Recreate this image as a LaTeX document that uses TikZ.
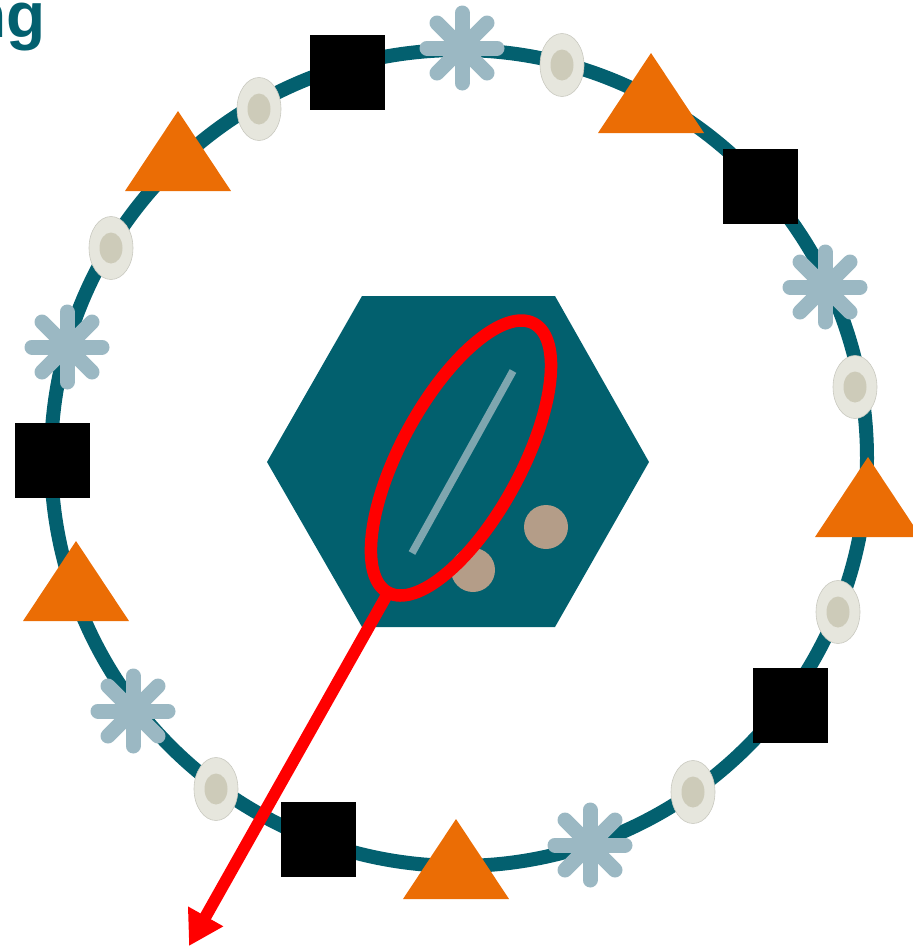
\documentclass[tikz,border=0pt]{standalone}
\usepackage{fontspec}
\setmainfont{Liberation Sans}
\usetikzlibrary{arrows.meta}
\definecolor{ringteal}{HTML}{03606F}
\definecolor{hexteal}{HTML}{02606E}
\definecolor{triorange}{HTML}{EB6D05}
\definecolor{astblue}{HTML}{9BB8C3}
\definecolor{ovalout}{HTML}{E6E6DD}
\definecolor{ovalin}{HTML}{CDCBB9}
\definecolor{ovaledge}{HTML}{C9C9C0}
\definecolor{dotbrown}{HTML}{B49D88}
\definecolor{rodblue}{HTML}{7EA6AF}
\definecolor{markred}{HTML}{FF0000}
\tikzset{
  ringline/.style={draw=ringteal, line width=14pt},
  sqbox/.style={fill=black},
  trishape/.style={fill=triorange},
  astarm/.style={draw=astblue, line width=15pt, line cap=round},
  ovalshape/.style={fill=ovalout, draw=ovaledge, line width=0.6pt},
  ovalcore/.style={fill=ovalin},
  hexshape/.style={fill=hexteal},
  dotshape/.style={fill=dotbrown},
  rodline/.style={draw=rodblue, line width=7.5pt},
  redring/.style={draw=markred, line width=12.5pt},
  redarrow/.style={draw=markred, line width=12pt, -{Triangle[length=34pt,width=38pt]}},
  titletext/.style={font=\bfseries\fontsize{64}{64}\selectfont, text=ringteal, inner sep=0pt}
}
\begin{document}
\begin{tikzpicture}[x=1pt,y=-1pt]
\useasboundingbox (0,0) rectangle (913,948);
\clip (0,0) rectangle (913,948);

% title fragment
\node[titletext, anchor=base east] (title) at (45.5,37) {ng};

% ring
\draw[ringline] (459,458) circle [radius=408];

% squares
\foreach \x/\y in {347/72, 760/186, 790/705, 318/839, 52/460}
  \fill[sqbox] (\x-37.5,\y-37.5) rectangle (\x+37.5,\y+37.5);

% triangles (apex given)
\foreach \x/\y in {178/111, 651/53, 868/457, 456/819, 76/541}
  \fill[trishape] (\x,\y) -- (\x+53,\y+80) -- (\x-53,\y+80) -- cycle;

% ovals
\foreach \x/\y in {562/65, 259/109, 111/248, 855/387, 838/612, 693/792, 216/789}{
  \filldraw[ovalshape] (\x,\y) ellipse [x radius=22, y radius=31.5];
  \fill[ovalcore] (\x,\y) ellipse [x radius=11.5, y radius=15.5];
}

% asterisks
\foreach \x/\y in {462/48, 825/287, 67/347, 133/711, 590/845}{
  \draw[astarm] (\x-35,\y) -- (\x+35,\y);
  \draw[astarm] (\x,\y-35) -- (\x,\y+35);
  \draw[astarm] (\x-25,\y-25) -- (\x+25,\y+25);
  \draw[astarm] (\x-25,\y+25) -- (\x+25,\y-25);
}

% hexagon
\fill[hexshape] (362,296) -- (555,296) -- (649,462) -- (555,627) -- (362,627) -- (267,462) -- cycle;
\coordinate (hexc) at (458,462);

% dots
\fill[dotshape] (546,527) circle [radius=22];
\fill[dotshape] (473,570) circle [radius=22];

% rod
\coordinate (rodA) at (412,553);
\coordinate (rodB) at (513,371);
\draw[rodline] (rodA) -- (rodB);

% red ellipse
\coordinate (ellc) at (461,458);
\draw[redring, rotate around={61.5:(ellc)}] (ellc) ellipse [x radius=153, y radius=60];
\coordinate (ellend) at (388,593);

% arrow
\coordinate (arrowtip) at (189,946);
\draw[redarrow] (ellend) -- (arrowtip);
\end{tikzpicture}
\end{document}
